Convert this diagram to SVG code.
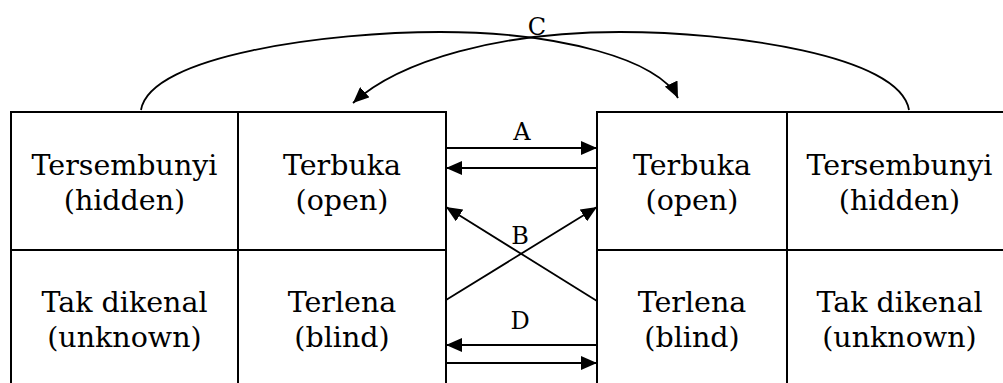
<svg xmlns="http://www.w3.org/2000/svg" width="1003" height="383" viewBox="0 0 1003 383">
<style>
.cell{fill:none;stroke:#000;stroke-width:2}
.t{font-family:"DejaVu Serif","Liberation Serif",serif;font-size:28.5px;fill:#000;text-anchor:middle}
.lbl{font-family:"DejaVu Serif","Liberation Serif",serif;font-size:24px;fill:#000;text-anchor:middle}
.c{fill:none;stroke:#000;stroke-width:1.8}
</style>
<defs>
<marker id="ah" markerUnits="userSpaceOnUse" markerWidth="17" markerHeight="14" refX="16" refY="7" orient="auto">
<path d="M0,0 L16,7 L0,14 z" fill="#000"/>
</marker>
</defs>
<rect width="1003" height="383" fill="#fff"/>
<g id="left-grid">
<g id="L-hidden"><rect class="cell" x="11" y="112" width="227" height="138"/><text class="t" x="124.5" y="175">Tersembunyi</text><text class="t" x="124.5" y="210">(hidden)</text></g>
<g id="L-open"><rect class="cell" x="238" y="112" width="208" height="138"/><text class="t" x="342" y="175">Terbuka</text><text class="t" x="342" y="210">(open)</text></g>
<g id="L-unknown"><rect class="cell" x="11" y="250" width="227" height="150"/><text class="t" x="124.5" y="312">Tak dikenal</text><text class="t" x="124.5" y="347">(unknown)</text></g>
<g id="L-blind"><rect class="cell" x="238" y="250" width="208" height="150"/><text class="t" x="342" y="312">Terlena</text><text class="t" x="342" y="347">(blind)</text></g>
</g>
<g id="right-grid">
<g id="R-open"><rect class="cell" x="597" y="112" width="190" height="138"/><text class="t" x="692" y="175">Terbuka</text><text class="t" x="692" y="210">(open)</text></g>
<g id="R-hidden"><rect class="cell" x="787" y="112" width="226" height="138"/><text class="t" x="899.5" y="175">Tersembunyi</text><text class="t" x="899.5" y="210">(hidden)</text></g>
<g id="R-blind"><rect class="cell" x="597" y="250" width="190" height="150"/><text class="t" x="692" y="312">Terlena</text><text class="t" x="692" y="347">(blind)</text></g>
<g id="R-unknown"><rect class="cell" x="787" y="250" width="226" height="150"/><text class="t" x="899.5" y="312">Tak dikenal</text><text class="t" x="899.5" y="347">(unknown)</text></g>
</g>
<g id="connectors">
<line class="c" x1="446" y1="148" x2="597" y2="148" marker-end="url(#ah)"/>
<line class="c" x1="597" y1="168" x2="446" y2="168" marker-end="url(#ah)"/>
<line class="c" x1="446" y1="300" x2="597" y2="207" marker-end="url(#ah)"/>
<line class="c" x1="597" y1="301" x2="446" y2="207" marker-end="url(#ah)"/>
<line class="c" x1="597" y1="345" x2="446" y2="345" marker-end="url(#ah)"/>
<line class="c" x1="446" y1="363" x2="597" y2="363" marker-end="url(#ah)"/>
<path class="c" d="M141,110 C150,55 330,32 440,32 C560,32 660,60 678,98" marker-end="url(#ah)"/>
<path class="c" d="M909,110 C900,55 730,32 620,32 C500,32 400,60 353,103" marker-end="url(#ah)"/>
<text class="lbl" x="522" y="140">A</text>
<text class="lbl" x="520" y="244">B</text>
<text class="lbl" x="537" y="35">C</text>
<text class="lbl" x="520" y="329">D</text>
</g>
</svg>
